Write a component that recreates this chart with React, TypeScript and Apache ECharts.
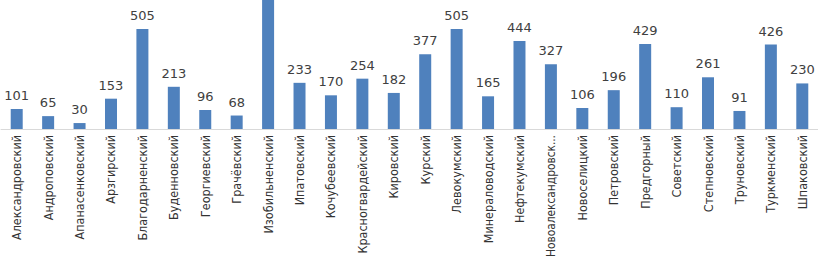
import React, { useEffect, useRef } from "react";
import * as echarts from "echarts";

const categories = [
  "Александровский", "Андроповский", "Апанасенковский", "Арзгирский", "Благодарненский",
  "Буденновский", "Георгиевский", "Грачёвский", "Изобильненский", "Ипатовский",
  "Кочубеевский", "Красногвардейский", "Кировский", "Курский", "Левокумский",
  "Минераловодский", "Нефтекумский", "Новоалександровский", "Новоселицкий", "Петровский",
  "Предгорный", "Советский", "Степновский", "Труновский", "Туркменский", "Шпаковский",
];
const values = [
  101, 65, 30, 153, 505, 213, 96, 68, 720, 233, 170, 254, 182, 377, 505,
  165, 444, 327, 106, 196, 429, 110, 261, 91, 426, 230,
];
const hiddenLabelCategories = ["Изобильненский"];

export default function App() {
  const ref = useRef<HTMLDivElement>(null);
  useEffect(() => {
    document.body.style.margin = "0";
    const chart = echarts.init(ref.current!, null, { renderer: "svg" });
    const labelFont = "DejaVu Sans Condensed, Liberation Sans, sans-serif";
    chart.setOption({
      animation: false,
      grid: {
        left: 1, right: 0, top: 0, bottom: 129,
        containLabel: false, outerBoundsMode: "none",
      },
      xAxis: {
        type: "category",
        data: categories,
        axisLine: { lineStyle: { color: "#D9D9D9", width: 1 } },
        axisTick: { show: false },
        axisLabel: {
          interval: 0,
          rotate: 90,
          margin: 6,
          fontFamily: labelFont,
          fontSize: 12.5,
          color: "#333333",
          formatter: (v: string) =>
            v.length > 18 ? "{s|" + v.slice(0, 17) + "...}" : v,
          rich: {
            s: { fontFamily: labelFont, fontSize: 11.8, color: "#333333" },
          },
        },
      },
      yAxis: {
        type: "value",
        min: 0,
        max: 651,
        show: false,
        splitLine: { show: false },
      },
      series: [
        {
          type: "bar",
          data: values.map((v, i) =>
            hiddenLabelCategories.includes(categories[i])
              ? { value: v, label: { show: false } }
              : v
          ),
          barWidth: 12,
          clip: true,
          itemStyle: { color: "#4F81BD" },
          label: {
            show: true,
            position: "top",
            distance: 7,
            fontFamily: "DejaVu Sans, sans-serif",
            fontSize: 13,
            color: "#404040",
          },
        },
      ],
    });
    return () => chart.dispose();
  }, []);
  return <div ref={ref} style={{ width: 818, height: 258 }} />;
}
